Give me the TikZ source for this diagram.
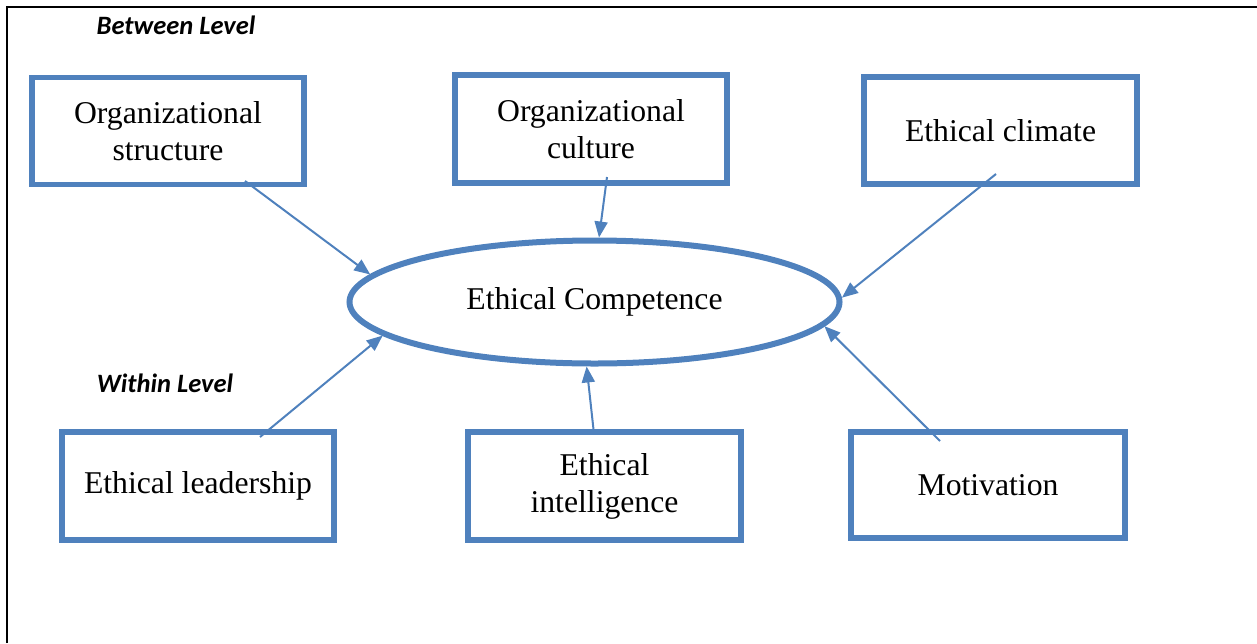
\documentclass[tikz,border=0pt]{standalone}
\usepackage{fontspec}
\setmainfont{Liberation Serif}
\newfontfamily\lblfont{Carlito}
\usetikzlibrary{shapes.geometric,arrows.meta}
\definecolor{ofblue}{HTML}{4F81BD}
\tikzset{
  box/.style={draw=ofblue,line width=5.5pt,rectangle,align=center,inner sep=0pt,
    font=\fontsize{31.7}{37}\selectfont},
  ell/.style={draw=ofblue,line width=6pt,ellipse,inner sep=0pt,font=\fontsize{31.7}{37}\selectfont},
  conn/.style={draw=ofblue,line width=2pt,-{Triangle[length=16pt,width=13pt]}},
  lvl/.style={font=\lblfont\bfseries\itshape\fontsize{26.5}{30}\selectfont,inner sep=0pt},
  frame/.style={line width=2.5pt}
}
\begin{document}
\begin{tikzpicture}[x=1pt,y=-1pt]
\useasboundingbox (0,0) rectangle (1257,643);
\draw[frame] (7,643) -- (7,7) -- (1257,7);
\node[lvl] (bl) at (176,25) {Between Level};
\node[lvl] (wl) at (165,383) {Within Level};
\node[box,minimum width=272pt,minimum height=107pt] (b1) at (168,131) {Organizational\\structure};
\node[box,minimum width=272pt,minimum height=108pt] (b2) at (591,129) {Organizational\\culture};
\node[box,minimum width=273pt,minimum height=107pt] (b3) at (1000.5,130.5) {Ethical climate};
\node[box,minimum width=272pt,minimum height=108pt] (b4) at (198,486) {Ethical leadership};
\node[box,minimum width=273pt,minimum height=108pt] (b5) at (604.5,486) {Ethical\\intelligence};
\node[box,minimum width=274pt,minimum height=106pt] (b6) at (988,485) {Motivation};
\node[ell,minimum width=490pt,minimum height=123pt] (ec) at (594.5,302) {Ethical Competence};
\coordinate (s1) at (245,181);
\coordinate (s2) at (607,177);
\coordinate (s3) at (996,174);
\coordinate (s4) at (260,437);
\coordinate (s5) at (594,434);
\coordinate (s6) at (940,441);
\draw[conn] (s1) -- (ec.173.7);
\draw[conn] (s2) -- (ec.86);
\draw[conn] (s3) -- (ec.1.4);
\draw[conn] (s4) -- (ec.189.75);
\draw[conn] (s5) -- (ec.263.7);
\draw[conn] (s6) -- (ec.354.7);
\end{tikzpicture}
\end{document}
